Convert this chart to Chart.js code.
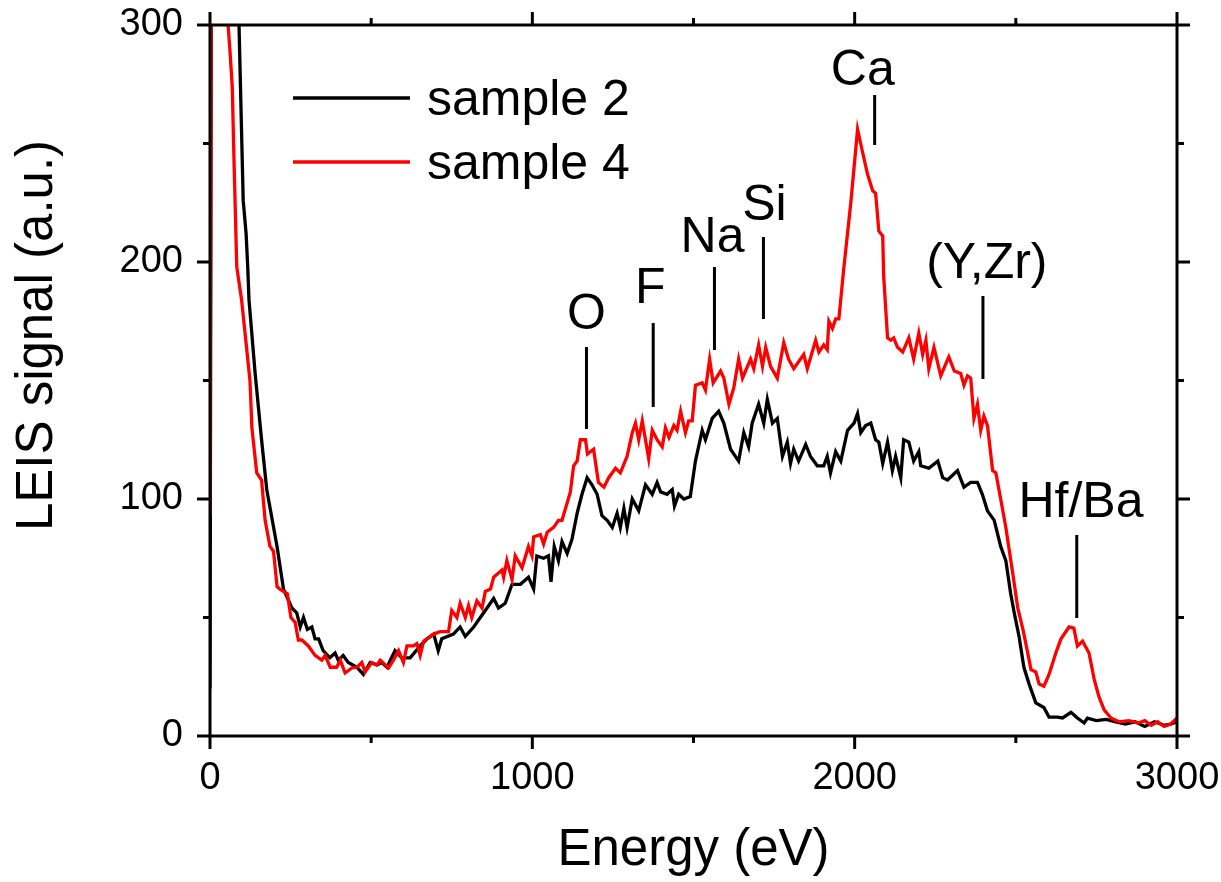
<!DOCTYPE html>
<html>
<head>
<meta charset="utf-8">
<script src="https://cdn.jsdelivr.net/npm/chart.js@4.4.1/dist/chart.umd.min.js"></script>
<style>
  body { margin: 0; background: #fff; }
</style>
</head>
<body>
<canvas id="leis" width="1221" height="882"></canvas>
<script>
// sample 2 (black)
const energy2 = [0, 8, 60, 90, 103, 112, 117, 121, 140, 160, 176, 208, 228, 254, 269, 280, 290, 302, 316, 326,
  337, 351, 372, 388, 398, 413, 429, 456, 476, 497, 518, 533, 549, 574, 595, 621, 652, 673, 694, 708,
  719, 755, 776, 792, 818, 849, 880, 895, 916, 937, 963, 988, 1004, 1014, 1035, 1050, 1058, 1068, 1081, 1092,
  1108, 1123, 1139, 1154, 1170, 1185, 1201, 1216, 1232, 1248, 1263, 1273, 1284, 1294, 1310, 1330, 1351, 1372, 1387, 1398,
  1418, 1434, 1441, 1454, 1470, 1490, 1506, 1527, 1537, 1558, 1578, 1594, 1615, 1640, 1656, 1671, 1682, 1702, 1718, 1729,
  1745, 1760, 1776, 1791, 1801, 1811, 1826, 1848, 1863, 1884, 1904, 1915, 1925, 1941, 1957, 1978, 1998, 2009, 2019, 2034,
  2050, 2065, 2075, 2087, 2102, 2117, 2127, 2143, 2152, 2168, 2183, 2199, 2205, 2230, 2258, 2273, 2288, 2319, 2339, 2360,
  2381, 2396, 2412, 2433, 2453, 2469, 2484, 2495, 2510, 2525, 2541, 2562, 2587, 2603, 2629, 2645, 2671, 2691, 2712, 2722,
  2750, 2780, 2810, 2840, 2870, 2900, 2930, 2960, 2980, 3000];
const signal2 = [20, 600, 500, 300, 226, 212, 198, 184, 153, 125, 104, 80, 62, 54, 52, 46, 50, 45, 46, 41,
  41, 36, 33, 35, 32, 34, 31, 29, 26, 31, 30, 31, 29, 36, 33, 33, 38, 41, 43, 36,
  41, 43, 46, 42, 46, 52, 58, 54, 56, 64, 64, 67, 62, 76, 75, 76, 65, 80, 74, 82,
  77, 83, 94, 102, 109, 106, 102, 93, 91, 88, 94, 88, 96, 88, 100, 95, 106, 102, 107, 103,
  102, 104, 97, 102, 100, 101, 116, 129, 125, 134, 137, 132, 121, 116, 128, 122, 132, 140, 132, 142,
  132, 134, 118, 124, 115, 121, 116, 123, 118, 114, 114, 118, 111, 120, 116, 129, 132, 136, 128, 131,
  132, 125, 124, 115, 124, 112, 118, 109, 125, 124, 116, 120, 114, 113, 116, 109, 108, 112, 105, 107,
  107, 102, 95, 91, 80, 74, 60, 52, 42, 29, 22, 14, 12, 8, 8, 7.6, 10, 7.6, 5.5, 7.5,
  6.5, 7, 6, 5, 6, 4, 6, 4.5, 5, 6];

// sample 4 (red)
const energy4 = [0, 10, 40, 56, 62, 69, 75, 83, 98, 124, 130, 145, 160, 171, 186, 197, 208, 217, 240, 251,
  264, 274, 285, 305, 326, 347, 357, 373, 393, 404, 419, 440, 456, 471, 481, 502, 518, 528, 554, 569,
  585, 600, 611, 631, 642, 652, 663, 694, 714, 740, 750, 766, 776, 792, 802, 812, 828, 844, 854, 870,
  880, 906, 911, 921, 937, 947, 968, 988, 999, 1004, 1025, 1035, 1046, 1066, 1081, 1092, 1118, 1128, 1139, 1149,
  1165, 1171, 1190, 1205, 1222, 1237, 1258, 1273, 1294, 1310, 1320, 1330, 1341, 1361, 1372, 1387, 1403, 1413, 1424, 1439,
  1449, 1460, 1475, 1485, 1496, 1506, 1527, 1537, 1550, 1561, 1584, 1594, 1610, 1625, 1640, 1652, 1677, 1687, 1702, 1714,
  1724, 1739, 1760, 1780, 1795, 1811, 1842, 1853, 1879, 1889, 1904, 1915, 1920, 1931, 1941, 1951, 1966, 1988, 2009, 2025,
  2040, 2056, 2065, 2075, 2087, 2090, 2102, 2112, 2121, 2133, 2149, 2168, 2183, 2199, 2211, 2221, 2230, 2246, 2267, 2292,
  2309, 2329, 2339, 2350, 2360, 2370, 2381, 2391, 2401, 2412, 2428, 2438, 2453, 2469, 2490, 2506, 2522, 2537, 2547, 2562,
  2572, 2587, 2603, 2624, 2640, 2655, 2665, 2680, 2691, 2707, 2727, 2743, 2758, 2774, 2795, 2820, 2850, 2880, 2900, 2920,
  2940, 2960, 2980, 3000];
const signal4 = [93, 700, 500, 300, 289, 274, 240, 198, 184, 150, 130, 111, 108, 91, 80, 78, 63, 62, 60, 50,
  48, 40.5, 40.5, 38, 34, 32, 34, 29, 29, 32, 26.6, 28.7, 29, 31, 27, 31, 30, 32, 28.7, 32,
  36, 31, 38, 38, 39, 34, 40, 43, 44, 44, 53, 50, 56, 50, 55, 50, 57, 54, 61, 62,
  67, 70, 67, 74, 66, 76, 71, 80, 76, 84, 85, 81, 86, 88, 91, 91, 103, 114, 116, 125,
  125, 119, 121, 107, 105, 109, 113, 111, 118, 128, 132, 125, 133, 117, 129, 125, 122, 130, 126, 131,
  129, 137, 128, 133, 133, 148, 149, 146, 159, 149, 154, 151, 140, 147, 159, 151, 159, 155, 165, 156,
  164, 156, 151, 166, 159, 155, 161, 155, 167, 162, 165, 163, 175, 172, 176, 176, 197, 225, 256, 246,
  237, 230, 229, 213, 211, 194, 168, 167, 168, 164, 162, 168, 159, 170, 161, 167, 155, 164, 152, 160,
  154, 153, 148, 152, 151, 134, 140, 129, 135, 131, 112, 111, 100, 88, 69, 54, 45, 35, 28, 27,
  22, 21, 26, 35, 41, 44, 46, 45.5, 38, 40, 35, 24, 16.5, 11, 7.6, 6, 6.5, 5.5, 6.5, 4.5,
  6, 4, 5, 7.6];

const seriesNames = ["sample 2", "sample 4"];
const seriesColors = ["#000000", "#ff0000"];

// peak markers: label position and marker line, in data units
const peakLabels = ["Ca", "Si", "Na", "F", "O", "(Y,Zr)", "Hf/Ba"];
const peakLabelEnergy = [2025, 1720, 1559, 1366, 1168, 2410, 2702];
const peakLabelSignal = [274.7, 217.7, 204.2, 182.7, 171.7, 193.2, 92.4];
const peakLineEnergy = [2062, 1717, 1565, 1375, 1168, 2398, 2689];
const peakLineTop = [270.5, 210.5, 197.9, 174.3, 164.1, 185.7, 84.8];
const peakLineBottom = [249.4, 175.9, 162.9, 138.8, 129.5, 150.6, 49.8];

const FONT = "'Liberation Sans', Arial, sans-serif";
Chart.defaults.font.family = FONT;
Chart.defaults.color = "#000";

function toPoints(xs, ys) {
  return xs.map((e, i) => ({ x: e, y: ys[i] }));
}

const decorations = {
  id: "decorations",
  afterDraw(chart) {
    const { ctx, chartArea: a, scales: { x, y } } = chart;
    ctx.save();
    ctx.strokeStyle = "#000";
    ctx.fillStyle = "#000";
    ctx.lineWidth = 3;

    // frame
    ctx.strokeRect(a.left, a.top, a.right - a.left, a.bottom - a.top);

    // outward ticks, major + minor
    ctx.beginPath();
    for (let e = x.min; e <= x.max; e += 500) {
      const px = x.getPixelForValue(e);
      const len = e % 1000 === 0 ? 13 : 7;
      ctx.moveTo(px, a.bottom); ctx.lineTo(px, a.bottom + len);
      ctx.moveTo(px, a.top); ctx.lineTo(px, a.top - len);
    }
    for (let v = y.min; v <= y.max; v += 50) {
      const py = y.getPixelForValue(v);
      const len = v % 100 === 0 ? 13 : 7;
      ctx.moveTo(a.left, py); ctx.lineTo(a.left - len, py);
      ctx.moveTo(a.right, py); ctx.lineTo(a.right + len, py);
    }
    ctx.stroke();

    // peak markers
    ctx.beginPath();
    peakLineEnergy.forEach((e, i) => {
      const px = x.getPixelForValue(e);
      ctx.moveTo(px, y.getPixelForValue(peakLineTop[i]));
      ctx.lineTo(px, y.getPixelForValue(peakLineBottom[i]));
    });
    ctx.stroke();
    ctx.font = "50px " + FONT;
    ctx.textAlign = "center";
    ctx.textBaseline = "alphabetic";
    peakLabels.forEach((t, i) => {
      ctx.fillText(t, x.getPixelForValue(peakLabelEnergy[i]), y.getPixelForValue(peakLabelSignal[i]));
    });

    // legend
    chart.data.datasets.forEach((ds, i) => {
      const ly = a.top + 73 + i * 64;
      ctx.strokeStyle = ds.borderColor;
      ctx.lineWidth = ds.borderWidth;
      ctx.beginPath();
      ctx.moveTo(a.left + 83, ly);
      ctx.lineTo(a.left + 200, ly);
      ctx.stroke();
      ctx.textAlign = "left";
      ctx.fillText(ds.label, a.left + 217, ly + 17);
    });

    // y axis title
    ctx.translate(52, 335.5);
    ctx.rotate(-Math.PI / 2);
    ctx.font = "51px " + FONT;
    ctx.textAlign = "center";
    ctx.fillText("LEIS signal (a.u.)", 0, 0);
    ctx.restore();
  }
};

new Chart(document.getElementById("leis"), {
  type: "line",
  data: {
    datasets: [
      {
        label: seriesNames[0],
        data: toPoints(energy2, signal2),
        borderColor: seriesColors[0],
        borderWidth: 3.3,
        pointRadius: 0,
        order: 2
      },
      {
        label: seriesNames[1],
        data: toPoints(energy4, signal4),
        borderColor: seriesColors[1],
        borderWidth: 3.3,
        pointRadius: 0,
        order: 1
      }
    ]
  },
  options: {
    responsive: false,
    animation: false,
    layout: { padding: { left: 0, right: 44, top: 25, bottom: 0 } },
    plugins: {
      legend: { display: false },
      tooltip: { enabled: false }
    },
    scales: {
      x: {
        type: "linear",
        min: 0,
        max: 3000,
        ticks: { stepSize: 1000, padding: 20, font: { size: 38 }, callback: v => String(v) },
        grid: { display: false, drawTicks: false },
        border: { display: false },
        title: { display: true, text: "Energy (eV)", font: { size: 51, lineHeight: 1.2 }, padding: 0 },
        afterFit(scale) {
          scale.height = 146;
          scale.paddingLeft = 0;
          scale.paddingRight = 0;
        }
      },
      y: {
        min: 0,
        max: 300,
        ticks: { stepSize: 100, padding: 27, font: { size: 38 }, callback: v => String(v) },
        grid: { display: false, drawTicks: false },
        border: { display: false },
        afterFit(scale) {
          scale.width = 210;
          scale.paddingTop = 0;
          scale.paddingBottom = 0;
        }
      }
    }
  },
  plugins: [decorations]
});
</script>
</body>
</html>
